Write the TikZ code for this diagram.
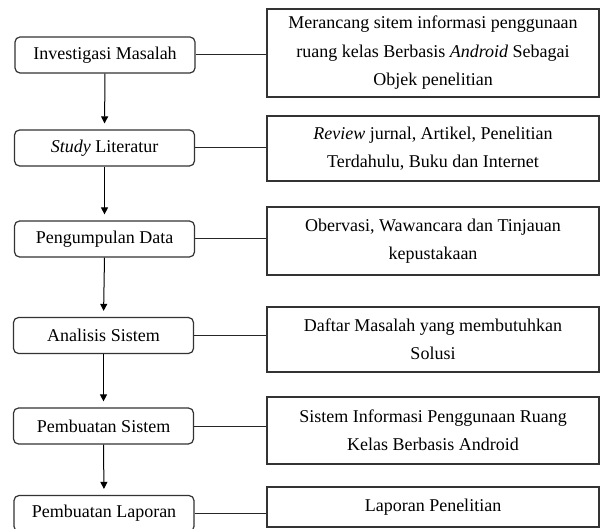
\documentclass[tikz,border=0pt]{standalone}
\usepackage{fontspec}
\setmainfont{Liberation Serif}
\usetikzlibrary{arrows.meta}
\begin{document}
\begin{tikzpicture}[x=1pt,y=-1pt,
  stepbox/.style={draw=black!80, line width=1.2pt, rounded corners=5pt, minimum width=180pt, minimum height=36pt, inner sep=0pt, font=\fontsize{18}{28.5}\selectfont},
  infobox/.style={draw=black!80, line width=1.4pt, minimum width=332pt, inner sep=0pt, align=center, font=\fontsize{18}{28.5}\selectfont},
  link/.style={draw=black!85, line width=1pt},
  flow/.style={draw=black, line width=1pt, -{Triangle[width=7pt,length=7pt]}, shorten >=6pt}]
\useasboundingbox (0,0) rectangle (600,529);
% left steps
\node[stepbox] (s1) at (105,55) {Investigasi Masalah};
\node[stepbox] (s2) at (104.5,148) {\textit{Study} Literatur};
\node[stepbox] (s3) at (104.5,239) {Pengumpulan Data};
\node[stepbox] (s4) at (103.5,335.5) {Analisis Sistem};
\node[stepbox] (s5) at (103.5,426) {Pembuatan Sistem};
\node[stepbox] (s6) at (104,513.5) {Pembuatan Laporan};
% right boxes
\node[infobox, minimum height=88pt] (r1) at (433,53) {Merancang sitem informasi penggunaan\\ruang kelas Berbasis \textit{Android} Sebagai\\Objek penelitian};
\node[infobox, minimum height=65pt] (r2) at (433,148.5) {\textit{Review} jurnal, Artikel, Penelitian\\Terdahulu, Buku dan Internet};
\node[infobox, minimum height=68pt] (r3) at (433,241) {Obervasi, Wawancara dan Tinjauan\\kepustakaan};
\node[infobox, minimum height=65pt] (r4) at (433,339.5) {Daftar Masalah yang membutuhkan\\Solusi};
\node[infobox, minimum height=67pt] (r5) at (433,430.5) {Sistem Informasi Penggunaan Ruang\\Kelas Berbasis Android};
\node[infobox, minimum height=40pt] (r6) at (433,507) {Laporan Penelitian};
% horizontal links
\foreach \i in {1,...,6} {\draw[link] (s\i.east) -- (s\i.east -| r\i.west);}
% vertical arrows
\draw[flow] (s1.south) -- (s2.north);
\draw[flow] (s2.south) -- (s3.north);
\draw[flow] (s3.south) -- (s4.north);
\draw[flow] (s4.south) -- (s5.north);
\draw[flow] (s5.south) -- (s6.north);
\end{tikzpicture}
\end{document}
